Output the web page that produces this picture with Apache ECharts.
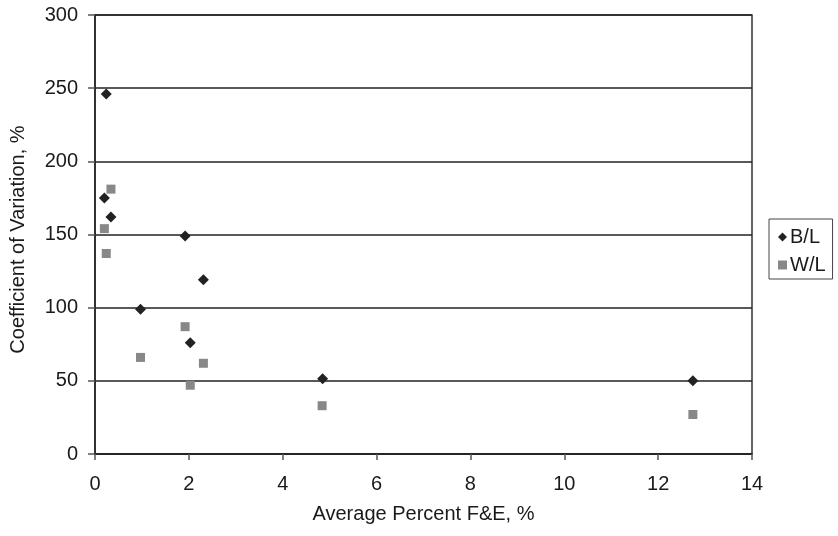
<!DOCTYPE html>
<html>
<head>
<meta charset="utf-8">
<script src="https://cdn.jsdelivr.net/npm/echarts@6/dist/echarts.min.js"></script>
<style>html,body{margin:0;padding:0;background:#fff}#c{width:838px;height:536px}</style>
</head>
<body>
<div id="c"></div>
<script>
var blX = [0.24, 0.20, 0.34, 1.92, 2.31, 0.97, 2.03, 4.85, 12.74];
var blY = [246, 175, 162, 149, 119, 99, 76, 51.5, 50];
var wlX = [0.34, 0.20, 0.24, 0.97, 1.92, 2.31, 2.03, 4.84, 12.74];
var wlY = [181, 154, 137, 66, 87, 62, 47, 33, 27];
var xTicks = [0, 2, 4, 6, 8, 10, 12, 14];
var yTicks = [0, 50, 100, 150, 200, 250, 300];
var seriesNames = ['B/L', 'W/L'];

function pairs(xs, ys) { return xs.map(function (x, i) { return [x, ys[i]]; }); }

var font = 'Liberation Sans, Arial, sans-serif';
var txt = '#1a1a1a';
var chart = echarts.init(document.getElementById('c'), null, { renderer: 'canvas' });
chart.setOption({
  animation: false,
  backgroundColor: '#fff',
  textStyle: { fontFamily: font, color: txt },
  grid: { left: 95, right: 86, top: 15, bottom: 82, show: true, borderColor: '#333', borderWidth: 1.5, backgroundColor: 'transparent' },
  legend: {
    orient: 'vertical', left: 769, top: 219,
    padding: [8, 7, 4, 9], itemGap: 8,
    borderColor: '#444', borderWidth: 1,
    itemWidth: 9, itemHeight: 9,
    textStyle: { fontFamily: font, fontSize: 20, color: txt, padding: [0, 0, 0, -2] },
    data: [{ name: seriesNames[0], icon: 'diamond' }, { name: seriesNames[1], icon: 'rect' }]
  },
  xAxis: {
    type: 'value', min: xTicks[0], max: xTicks[xTicks.length - 1], interval: 2,
    name: 'Average Percent F&E, %', nameLocation: 'middle', nameGap: 50,
    nameTextStyle: { fontFamily: font, fontSize: 20, color: txt },
    axisLine: { show: true, onZero: false, lineStyle: { color: '#222', width: 1.5 } },
    axisTick: { show: true, inside: false, length: 6, lineStyle: { color: '#555', width: 1.5 } },
    axisLabel: { fontFamily: font, fontSize: 20, color: txt, margin: 20 },
    splitLine: { show: false }
  },
  yAxis: {
    type: 'value', min: yTicks[0], max: yTicks[yTicks.length - 1], interval: 50,
    name: 'Coefficient of Variation, %', nameLocation: 'middle', nameGap: 67,
    nameTextStyle: { fontFamily: font, fontSize: 20, color: txt, padding: [0, 10, 0, 0] },
    axisLine: { show: true, onZero: false, lineStyle: { color: '#222', width: 1.5 } },
    axisTick: { show: true, inside: false, length: 7, lineStyle: { color: '#555', width: 1.5 } },
    axisLabel: { fontFamily: font, fontSize: 20, color: txt, margin: 17 },
    splitLine: { show: true, lineStyle: { color: '#222', width: 1.5 } }
  },
  series: [
    { name: seriesNames[0], type: 'scatter', symbol: 'diamond', symbolSize: 11, itemStyle: { color: '#222', opacity: 1 }, data: pairs(blX, blY), z: 3 },
    { name: seriesNames[1], type: 'scatter', symbol: 'rect', symbolSize: 9, itemStyle: { color: '#888', opacity: 1 }, data: pairs(wlX, wlY), z: 2 }
  ]
});
</script>
</body>
</html>
